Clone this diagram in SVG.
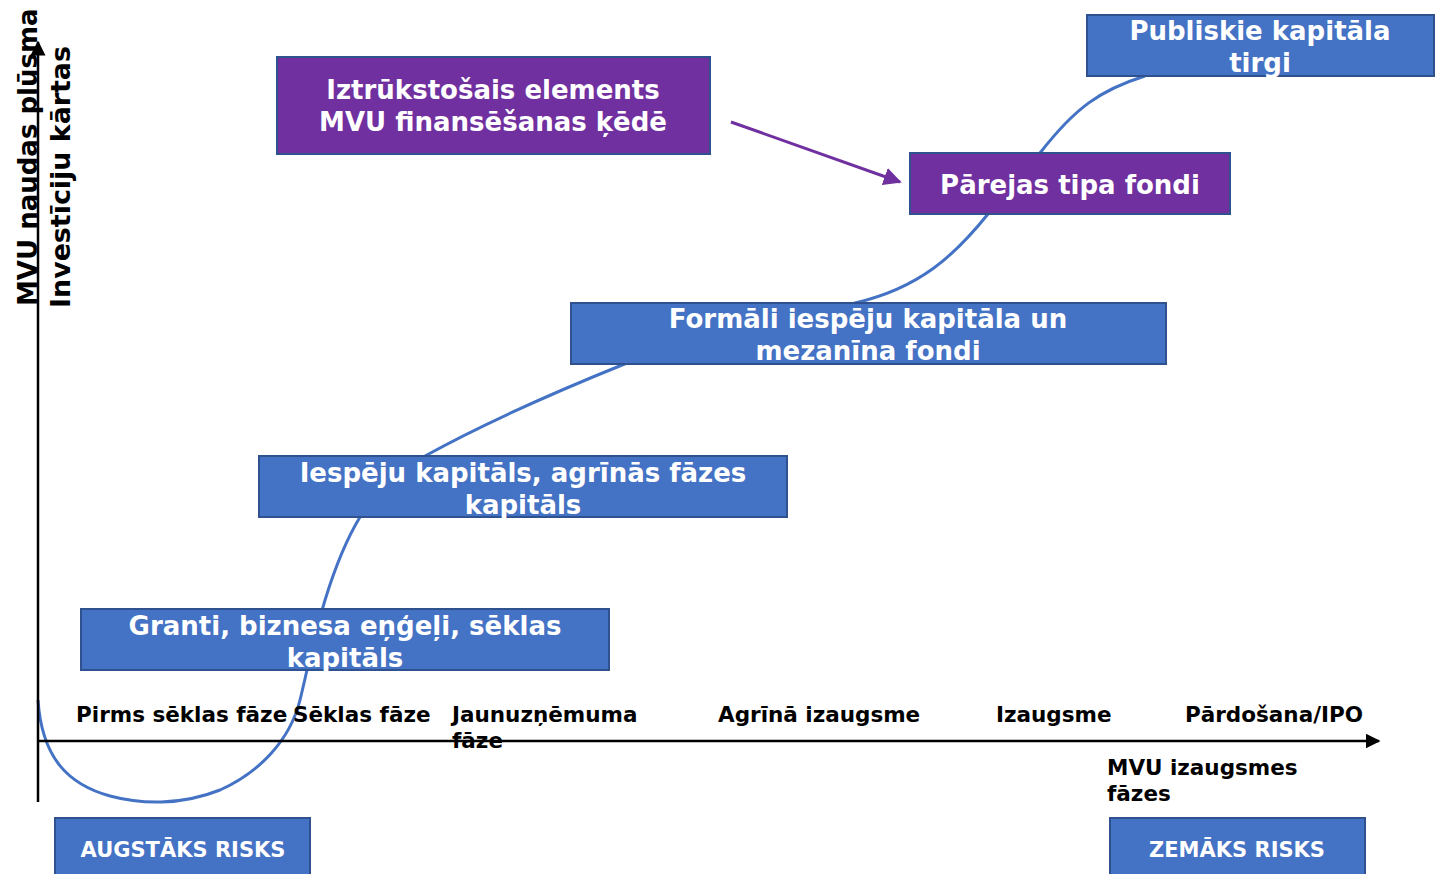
<svg xmlns="http://www.w3.org/2000/svg" width="1438" height="874" viewBox="0 0 1438 874">
<defs>
<style>
.box{stroke:#2F528F;stroke-width:2}
.blue{fill:#4472C4}
.purple{fill:#7030A0}
.bt{font-family:"DejaVu Sans","Liberation Sans",sans-serif;font-weight:bold;font-size:26px;fill:#fff;text-anchor:middle}
.rt{font-family:"DejaVu Sans","Liberation Sans",sans-serif;font-weight:bold;font-size:21px;fill:#fff;text-anchor:middle}
.ax{font-family:"DejaVu Sans","Liberation Sans",sans-serif;font-weight:bold;font-size:21.5px;fill:#000}
.vt{font-family:"DejaVu Sans","Liberation Sans",sans-serif;font-weight:bold;font-size:26px;fill:#000}
.axis{stroke:#000;stroke-width:2.5;fill:none}
.curve{stroke:#4472C4;stroke-width:3;fill:none}
</style>
<marker id="ab" viewBox="0 0 10 10" refX="9" refY="5" markerWidth="6" markerHeight="6" markerUnits="strokeWidth" orient="auto"><path d="M0,0 L10,5 L0,10 z" fill="#000"/></marker>
<marker id="ap" viewBox="0 0 10 10" refX="9" refY="5" markerWidth="6" markerHeight="6" markerUnits="strokeWidth" orient="auto"><path d="M0,0 L10,5 L0,10 z" fill="#7030A0"/></marker>
</defs>
<rect width="1438" height="874" fill="#fff"/>
<g id="connectors">
<path class="curve" d="M38,700 C42,760 70,785 110,796 C140,804 180,806 220,790 C260,772 290,740 300,700 C310,660 325,575 360,517 C380,485 400,468 425,456 C490,420 560,390 627,363 C720,325 800,315 855,303 C920,288 955,255 988,214 C1010,188 1025,170 1040,153 C1075,108 1100,90 1145,76"/>
<line class="axis" x1="38" y1="802" x2="38" y2="42" marker-end="url(#ab)"/>
<line class="axis" x1="38" y1="741" x2="1379" y2="741" marker-end="url(#ab)"/>
<line x1="731" y1="122" x2="900" y2="182" stroke="#7030A0" stroke-width="3" marker-end="url(#ap)"/>
</g>
<g id="y-label">
<text class="vt" transform="translate(37,306) rotate(-90)">MVU naudas plūsma</text>
<text class="vt" transform="translate(70,308) rotate(-90)" textLength="262" lengthAdjust="spacingAndGlyphs">Investīciju kārtas</text>
</g>
<g id="x-labels">
<text class="ax" x="76" y="722">Pirms sēklas fāze</text>
<text class="ax" x="293" y="722">Sēklas fāze</text>
<text class="ax" x="452" y="722">Jaunuzņēmuma</text>
<text class="ax" x="452" y="748">fāze</text>
<text class="ax" x="718" y="722">Agrīnā izaugsme</text>
<text class="ax" x="996" y="722">Izaugsme</text>
<text class="ax" x="1185" y="722">Pārdošana/IPO</text>
<text class="ax" x="1107" y="775">MVU izaugsmes</text>
<text class="ax" x="1107" y="801">fāzes</text>
</g>
<g id="node-missing">
<rect class="box purple" x="277" y="57" width="433" height="97"/>
<text class="bt" x="493" y="99">Iztrūkstošais elements</text>
<text class="bt" x="493" y="131">MVU finansēšanas ķēdē</text>
</g>
<g id="node-public">
<rect class="box blue" x="1087" y="15" width="347" height="61"/>
<text class="bt" x="1260" y="40">Publiskie kapitāla</text>
<text class="bt" x="1260" y="72">tirgi</text>
</g>
<g id="node-mezzanine">
<rect class="box purple" x="910" y="153" width="320" height="61"/>
<text class="bt" x="1070" y="194">Pārejas tipa fondi</text>
</g>
<g id="node-formal">
<rect class="box blue" x="571" y="303" width="595" height="61"/>
<text class="bt" x="868" y="328">Formāli iespēju kapitāla un</text>
<text class="bt" x="868" y="360">mezanīna fondi</text>
</g>
<g id="node-venture">
<rect class="box blue" x="259" y="456" width="528" height="61"/>
<text class="bt" x="523" y="482">Iespēju kapitāls, agrīnās fāzes</text>
<text class="bt" x="523" y="514">kapitāls</text>
</g>
<g id="node-grants">
<rect class="box blue" x="81" y="609" width="528" height="61"/>
<text class="bt" x="345" y="635">Granti, biznesa eņģeļi, sēklas</text>
<text class="bt" x="345" y="667">kapitāls</text>
</g>
<g id="node-high-risk">
<rect class="box blue" x="55" y="818" width="255" height="64"/>
<text class="rt" x="183" y="857">AUGSTĀKS RISKS</text>
</g>
<g id="node-low-risk">
<rect class="box blue" x="1110" y="818" width="255" height="64"/>
<text class="rt" x="1237" y="857">ZEMĀKS RISKS</text>
</g>
</svg>
